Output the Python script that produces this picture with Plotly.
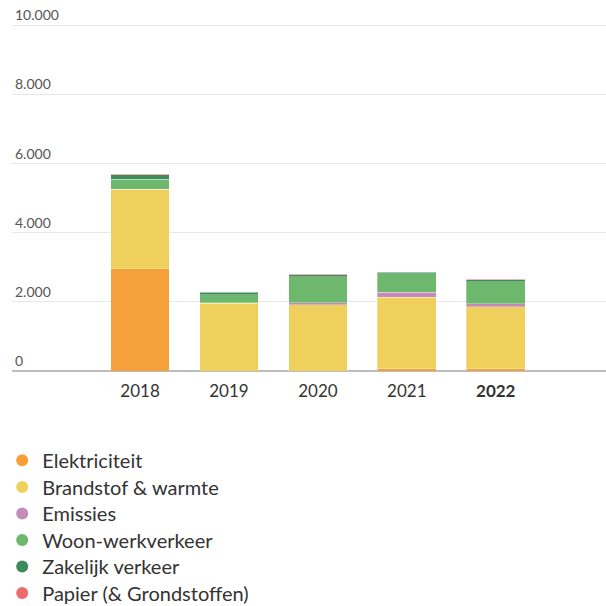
import plotly.graph_objects as go

years = ["2018", "2019", "2020", "2021", "2022"]
year_labels = ["2018", "2019", "2020", "2021", "<b>2022</b>"]
series_names = ["Elektriciteit", "Brandstof & warmte", "Emissies",
                "Woon-werkverkeer", "Zakelijk verkeer", "Papier (& Grondstoffen)"]
elektriciteit = [2960, 0, 0, 60, 60]
brandstof = [2290, 1965, 1920, 2070, 1795]
emissies = [10, 15, 50, 144, 95]
woon_werk = [290, 230, 750, 540, 626]
zakelijk = [125, 70, 58, 38, 67]
papier = [20, 15, 15, 15, 10]
colors = ["#F5A03A", "#F0D05C", "#C38BB8", "#6DB86C", "#3B8B5B", "#EE6B6B"]
y_ticks = [0, 2000, 4000, 6000, 8000, 10000]
y_tick_labels = ["0", "2.000", "4.000", "6.000", "8.000", "10.000"]

values = [elektriciteit, brandstof, emissies, woon_werk, zakelijk, papier]

fig = go.Figure()
for name, vals, col in zip(series_names, values, colors):
    fig.add_trace(go.Bar(
        x=years, y=vals, name=name, marker_color=col,
        marker_line_color="rgba(255,255,255,0.5)", marker_line_width=0.6,
        showlegend=False, width=0.66,
    ))

PLOT_BOTTOM = 371.5
PLOT_H = 606 - 0.7 - 234.5
legend_layout = {}
for i, (name, col) in enumerate(zip(series_names, colors)):
    key = "legend" if i == 0 else f"legend{i + 1}"
    fig.add_trace(go.Scatter(
        x=[None], y=[None], mode="markers", name=name, legend=key,
        marker=dict(color=col, size=12, symbol="circle"),
    ))
    top_px = 441.5 + 26.6 * i
    legend_layout[key] = dict(
        x=-0.0165, xanchor="left", y=-(top_px - PLOT_BOTTOM) / PLOT_H,
        yanchor="top", orientation="v",
        font=dict(size=20, color="#333"), itemsizing="constant",
        bgcolor="rgba(0,0,0,0)",
    )

fig.update_layout(
    width=606, height=606,
    barmode="stack",
    plot_bgcolor="white", paper_bgcolor="white",
    margin=dict(l=12, r=0, t=0.7, b=234.5, autoexpand=False),
    font=dict(family="Lato", color="#333"),
    **legend_layout,
)
fig.update_xaxes(
    type="category", tickvals=years, ticktext=year_labels,
    range=[-1.44, 5.24], showgrid=False,
    tickfont=dict(size=17, color="#333"), ticklabelstandoff=8,
    showline=False, ticks="",
)
fig.update_yaxes(
    range=[0, 10700], tickvals=y_ticks, ticktext=y_tick_labels,
    ticklabelposition="inside top", tickfont=dict(size=14, color="#555"),
    showgrid=True, gridcolor="#e8e8e8", gridwidth=1,
    zeroline=True, zerolinecolor="#bbbbbb", zerolinewidth=1.5,
    ticks="",
)
fig.write_html("out.html", config={"displayModeBar": False},
               post_script="document.body.style.margin='0';")
